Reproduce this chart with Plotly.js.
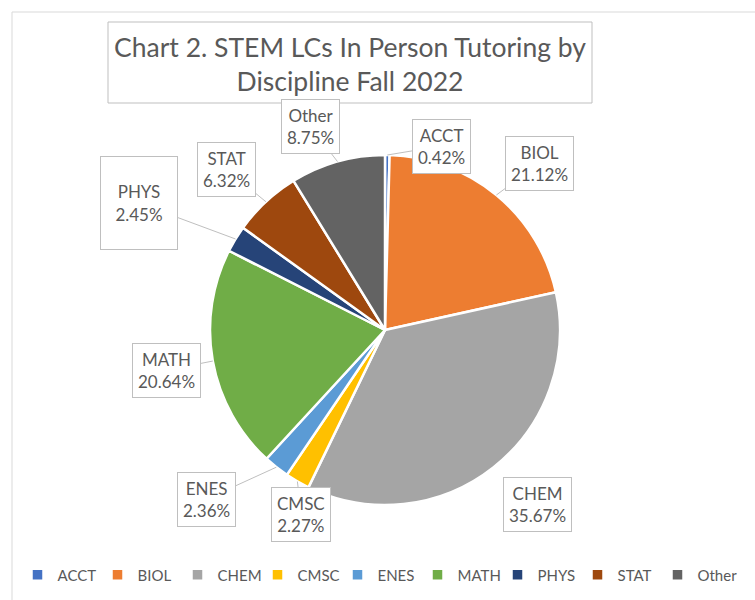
<!DOCTYPE html>
<html>
<head>
<meta charset="utf-8">
<script src="https://cdn.plot.ly/plotly-3.0.1.min.js"></script>
<style>html,body{margin:0;padding:0;background:#fff;}#chart{width:755px;height:600px;}</style>
</head>
<body>
<div id="chart"></div>
<script>
// ---- data ----
const categories = ['ACCT', 'BIOL', 'CHEM', 'CMSC', 'ENES', 'MATH', 'PHYS', 'STAT', 'Other'];
const percentages = [0.42, 21.12, 35.67, 2.27, 2.36, 20.64, 2.45, 6.32, 8.75];
const sliceColors = ['#4472C4', '#ED7D31', '#A5A5A5', '#FFC000', '#5B9BD5', '#70AD47', '#264478', '#9E480E', '#636363'];

// ---- layout settings (positions kept separate from data) ----
const W = 755, H = 600;
const pieCx = 385, pieCy = 330, pieR = 175;
// label box centre offsets (pixels) from the slice's arc midpoint
const labelOffsets = [[54, -9], [43, -32], [44, 37], [4, 33], [-70, 32], [-46, 9], [-97, -36], [-39, -32], [-27, -35]];
const textColor = '#595959';
const fontFam = 'Lato, "Open Sans", sans-serif';

const total = percentages.reduce((a, b) => a + b, 0);
let cum = 0;
const annotations = categories.map((c, i) => {
  const mid = (cum + percentages[i] / 2) / total;
  cum += percentages[i];
  const th = mid * 2 * Math.PI;
  const px = pieCx + pieR * Math.sin(th);
  const py = pieCy - pieR * Math.cos(th);
  const ann = {
    x: px / W, y: 1 - py / H, xref: 'paper', yref: 'paper',
    text: c + '<br>' + percentages[i].toFixed(2) + '%',
    showarrow: true, arrowhead: 0, arrowwidth: 1, arrowcolor: '#bfbfbf',
    ax: labelOffsets[i][0], ay: labelOffsets[i][1],
    bgcolor: '#ffffff', bordercolor: '#bfbfbf', borderwidth: 1, borderpad: 5,
    font: {family: fontFam, size: 17, color: textColor}
  };
  if (c === 'PHYS') { ann.width = 66; ann.height = 82; }
  return ann;
});

const trace = {
  type: 'pie',
  labels: categories,
  values: percentages,
  sort: false,
  direction: 'clockwise',
  rotation: 0,
  textinfo: 'none',
  hoverinfo: 'label+percent',
  marker: {colors: sliceColors, line: {color: '#ffffff', width: 2.5}},
  domain: {x: [(pieCx - pieR) / W, (pieCx + pieR) / W], y: [1 - (pieCy + pieR) / H, 1 - (pieCy - pieR) / H]}
};

const layout = {
  width: W, height: H,
  margin: {l: 0, r: 0, t: 0, b: 0},
  paper_bgcolor: '#ffffff',
  title: {
    text: 'Chart 2. STEM LCs In Person Tutoring by<br>Discipline Fall 2022',
    x: 350 / W, xanchor: 'center', y: 1 - 57 / H, yanchor: 'middle',
    font: {family: fontFam, size: 26.5, color: textColor}
  },
  showlegend: true,
  legend: {
    orientation: 'h', x: 0.5, xanchor: 'center', y: 1 - 575 / H, yanchor: 'middle',
    font: {family: fontFam, size: 15, color: textColor},
    bgcolor: 'rgba(0,0,0,0)',
    traceorder: 'normal',
    entrywidth: 35, entrywidthmode: 'pixels'
  },
  shapes: [
    {type: 'rect', xref: 'paper', yref: 'paper', x0: 12 / W, x1: 1.05, y0: -0.05, y1: 1 - 12 / H,
     line: {color: '#d9d9d9', width: 1}, layer: 'below'},
    {type: 'rect', xref: 'paper', yref: 'paper', x0: 108 / W, x1: 592 / W, y0: 1 - 103 / H, y1: 1 - 22 / H,
     line: {color: '#bfbfbf', width: 1}, fillcolor: 'rgba(0,0,0,0)', layer: 'below'}
  ],
  annotations: annotations
};

Plotly.newPlot('chart', [trace], layout, {displayModeBar: false, staticPlot: true});
</script>
</body>
</html>
